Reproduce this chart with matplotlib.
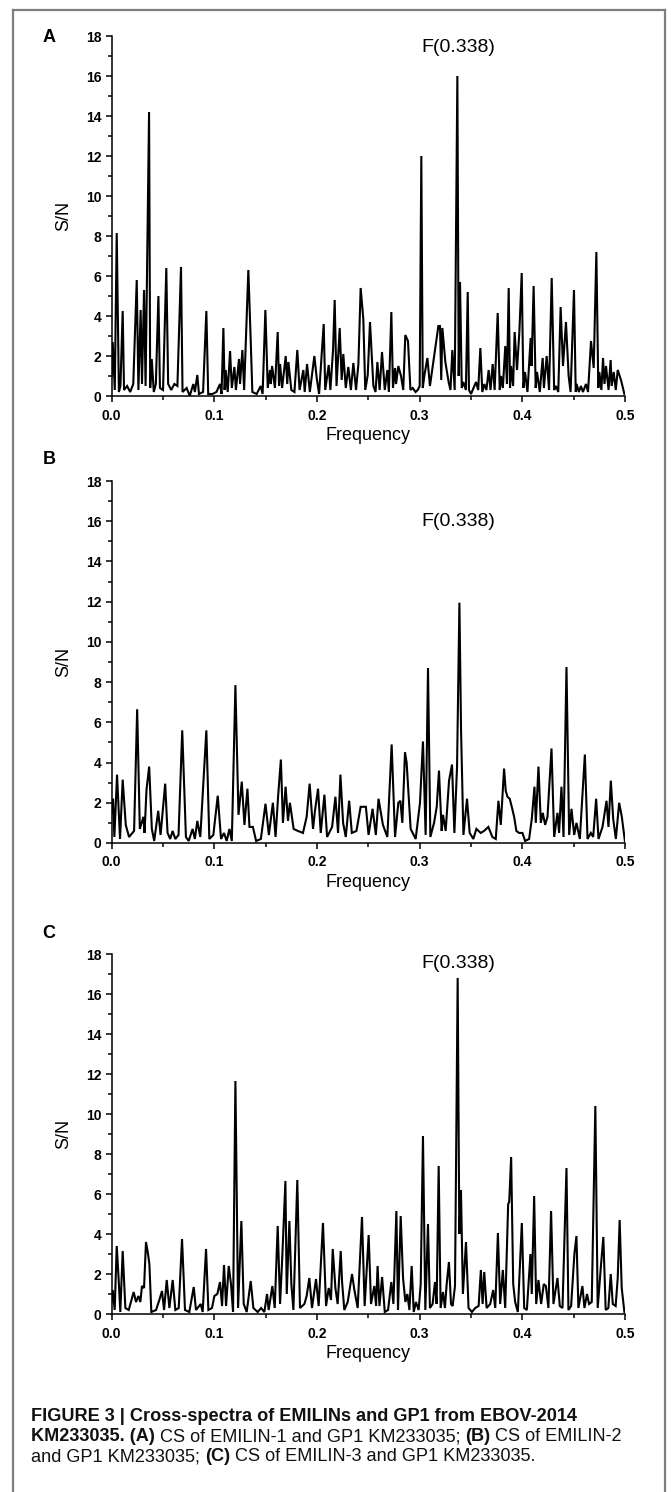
import matplotlib
matplotlib.use("Agg")
import matplotlib.pyplot as plt
from matplotlib.lines import Line2D
from matplotlib.ticker import MultipleLocator

plt.rcParams['font.family'] = ['Liberation Sans', 'DejaVu Sans']

# (frequency, S/N)
spec_a = [
    (0.000, 1.0), (0.001, 2.7), (0.003, 0.3), (0.0049, 8.15), (0.007, 0.2), (0.0085, 0.5),
    (0.0107, 4.25), (0.012, 0.3), (0.015, 0.5), (0.018, 0.2), (0.021, 0.6), (0.0244, 5.8),
    (0.026, 0.3), (0.0282, 4.3), (0.0295, 0.6), (0.0315, 5.3), (0.033, 0.5), (0.0364, 14.2),
    (0.0375, 0.4), (0.039, 1.85), (0.041, 0.2), (0.043, 0.6), (0.0455, 5.0), (0.047, 0.4),
    (0.050, 0.3), (0.0532, 6.4), (0.055, 0.6), (0.058, 0.3), (0.061, 0.6), (0.064, 0.5),
    (0.0675, 6.45), (0.069, 0.2), (0.073, 0.4), (0.076, 0.0), (0.0795, 0.6), (0.081, 0.2),
    (0.0834, 1.05), (0.085, 0.1), (0.089, 0.2), (0.0922, 4.25), (0.094, 0.1), (0.098, 0.1),
    (0.102, 0.2), (0.1055, 0.6), (0.107, 0.1), (0.1088, 3.4), (0.110, 0.3), (0.111, 1.3),
    (0.113, 0.2), (0.1153, 2.25), (0.117, 0.4), (0.1195, 1.45), (0.121, 0.3), (0.124, 1.85),
    (0.125, 0.6), (0.1273, 2.3), (0.129, 0.3), (0.1331, 6.3), (0.1354, 2.8), (0.137, 0.2),
    (0.1412, 0.1), (0.1451, 0.5), (0.147, 0.1), (0.1497, 4.3), (0.152, 0.4), (0.1542, 1.3),
    (0.155, 0.6), (0.1562, 1.5), (0.159, 0.4), (0.1617, 3.2), (0.163, 0.5), (0.164, 1.6),
    (0.166, 0.4), (0.1695, 2.0), (0.171, 0.6), (0.1721, 1.7), (0.175, 0.3), (0.178, 0.2),
    (0.1808, 2.3), (0.183, 0.3), (0.1867, 1.3), (0.188, 0.2), (0.1903, 1.6), (0.193, 0.2),
    (0.1974, 2.0), (0.1997, 0.9), (0.202, 0.1), (0.2065, 3.6), (0.208, 0.3), (0.2114, 1.55),
    (0.213, 0.3), (0.2156, 2.3), (0.2172, 4.8), (0.219, 0.5), (0.2221, 3.4), (0.224, 0.8),
    (0.2256, 2.1), (0.228, 0.4), (0.2305, 1.45), (0.233, 0.3), (0.2354, 1.65), (0.238, 0.3),
    (0.2403, 1.6), (0.2425, 5.4), (0.2451, 3.85), (0.247, 0.3), (0.2494, 1.05), (0.2516, 3.7),
    (0.2549, 0.5), (0.257, 0.2), (0.2588, 1.7), (0.261, 0.3), (0.2633, 2.2), (0.266, 0.3),
    (0.2685, 1.3), (0.270, 0.2), (0.2724, 4.2), (0.274, 0.4), (0.276, 1.4), (0.277, 0.6),
    (0.2792, 1.5), (0.2818, 1.0), (0.284, 0.3), (0.286, 3.05), (0.2886, 2.75), (0.291, 0.3),
    (0.2932, 0.4), (0.296, 0.2), (0.2981, 0.3), (0.300, 0.5), (0.3016, 12.0), (0.303, 0.4),
    (0.3045, 1.0), (0.3075, 1.9), (0.310, 0.5), (0.3127, 1.5), (0.3153, 2.5), (0.3182, 3.5),
    (0.3198, 3.5), (0.321, 0.8), (0.3221, 3.4), (0.325, 1.7), (0.3282, 0.7), (0.330, 0.3),
    (0.3318, 2.3), (0.3341, 0.3), (0.3367, 16.0), (0.338, 1.0), (0.3393, 5.7), (0.341, 0.4),
    (0.3425, 0.7), (0.345, 0.3), (0.3468, 5.2), (0.348, 0.3), (0.350, 0.1), (0.3549, 0.7),
    (0.357, 0.3), (0.3591, 2.4), (0.361, 0.2), (0.363, 0.6), (0.365, 0.3), (0.3672, 1.3),
    (0.369, 0.3), (0.3711, 1.6), (0.373, 0.3), (0.376, 4.15), (0.378, 0.3), (0.3792, 1.0),
    (0.381, 0.4), (0.3834, 2.5), (0.385, 0.6), (0.3867, 5.4), (0.388, 0.4), (0.389, 1.5),
    (0.391, 0.5), (0.3925, 3.2), (0.3948, 1.3), (0.3971, 3.2), (0.3994, 6.15), (0.401, 0.4),
    (0.4026, 1.2), (0.405, 0.2), (0.4081, 2.9), (0.409, 1.5), (0.411, 5.5), (0.413, 0.4),
    (0.4143, 1.2), (0.417, 0.2), (0.4198, 1.9), (0.421, 0.4), (0.4237, 2.0), (0.426, 0.3),
    (0.4286, 5.9), (0.431, 0.3), (0.4328, 0.5), (0.435, 0.2), (0.4373, 4.45), (0.4396, 1.5),
    (0.4425, 3.7), (0.4451, 1.0), (0.447, 0.2), (0.4503, 5.3), (0.452, 0.2), (0.4529, 0.6),
    (0.455, 0.2), (0.4571, 0.5), (0.459, 0.2), (0.462, 0.6), (0.464, 0.2), (0.4669, 2.75),
    (0.4695, 1.4), (0.4721, 7.2), (0.474, 0.4), (0.475, 1.2), (0.477, 0.3), (0.4786, 1.9),
    (0.480, 0.6), (0.4815, 1.5), (0.484, 0.3), (0.486, 1.8), (0.487, 0.5), (0.489, 1.2),
    (0.491, 0.3), (0.4929, 1.3), (0.4961, 0.8), (0.4994, 0.1),
]

spec_b = [
    (0.000, 1.5), (0.0013, 2.2), (0.0026, 0.3), (0.0052, 3.4), (0.0081, 0.2), (0.0107, 3.15),
    (0.0137, 0.9), (0.0169, 0.3), (0.0218, 0.6), (0.0248, 6.65), (0.0274, 0.7), (0.0309, 1.3),
    (0.032, 0.5), (0.0339, 2.65), (0.0365, 3.8), (0.0391, 0.7), (0.0414, 0.1), (0.0453, 1.6),
    (0.0476, 0.4), (0.0521, 2.95), (0.0544, 0.5), (0.057, 0.2), (0.0593, 0.6), (0.062, 0.2),
    (0.0651, 0.4), (0.0687, 5.6), (0.0723, 0.3), (0.075, 0.1), (0.0788, 0.7), (0.081, 0.2),
    (0.0834, 1.1), (0.0863, 0.3), (0.0922, 5.6), (0.0951, 0.2), (0.099, 0.4), (0.1033, 2.35),
    (0.1065, 0.2), (0.1094, 0.5), (0.112, 0.1), (0.1147, 0.7), (0.117, 0.1), (0.1205, 7.85),
    (0.1235, 1.4), (0.1267, 3.05), (0.1293, 0.9), (0.1322, 2.7), (0.1342, 0.8), (0.1375, 0.8),
    (0.1407, 0.1), (0.1453, 0.2), (0.1498, 1.95), (0.1531, 0.4), (0.157, 2.0), (0.1596, 0.3),
    (0.1622, 2.4), (0.1648, 4.15), (0.1668, 1.0), (0.1694, 2.8), (0.1717, 1.1), (0.1736, 2.0),
    (0.1772, 0.7), (0.1814, 0.6), (0.1863, 0.5), (0.1899, 1.3), (0.1928, 2.95), (0.1961, 0.7),
    (0.198, 1.6), (0.201, 2.7), (0.2036, 0.5), (0.2072, 2.4), (0.2098, 0.3), (0.2147, 0.8),
    (0.2179, 2.3), (0.2205, 0.5), (0.2228, 3.4), (0.2254, 1.0), (0.228, 0.3), (0.2313, 2.1),
    (0.2339, 0.5), (0.2384, 0.6), (0.2425, 1.8), (0.2450, 1.8), (0.2476, 1.8), (0.2502, 0.4),
    (0.2541, 1.7), (0.2573, 0.4), (0.2599, 2.2), (0.2642, 0.9), (0.2685, 0.3), (0.2727, 4.9),
    (0.276, 0.3), (0.2792, 2.0), (0.2812, 2.1), (0.2831, 1.0), (0.2857, 4.5), (0.2873, 4.0),
    (0.2912, 0.7), (0.2961, 0.2), (0.3003, 2.0), (0.3032, 5.05), (0.3058, 0.4), (0.3081, 8.7),
    (0.3104, 0.3), (0.314, 1.0), (0.3166, 1.8), (0.3188, 3.6), (0.3214, 0.6), (0.3227, 1.4),
    (0.3253, 0.6), (0.3286, 3.1), (0.3315, 3.9), (0.3338, 0.5), (0.3364, 3.8), (0.3387, 11.95),
    (0.3403, 5.6), (0.3426, 0.4), (0.3461, 2.2), (0.3487, 0.5), (0.3523, 0.2), (0.3552, 0.7),
    (0.3595, 0.5), (0.3627, 0.6), (0.3669, 0.8), (0.3708, 0.3), (0.3741, 0.2), (0.3767, 2.1),
    (0.379, 0.9), (0.3822, 3.7), (0.3838, 2.6), (0.3855, 2.3), (0.3877, 2.2), (0.3897, 1.8),
    (0.392, 1.3), (0.3942, 0.6), (0.3968, 0.5), (0.4001, 0.5), (0.4027, 0.1), (0.4066, 0.2),
    (0.4092, 1.2), (0.4118, 2.8), (0.4131, 1.0), (0.4157, 3.8), (0.418, 1.0), (0.4199, 1.5),
    (0.4222, 0.9), (0.4245, 1.3), (0.4284, 4.7), (0.431, 0.3), (0.4342, 1.5), (0.4358, 0.5),
    (0.4381, 2.8), (0.4401, 0.3), (0.443, 8.75), (0.4456, 0.4), (0.4479, 1.7), (0.4505, 0.4),
    (0.4527, 1.0), (0.456, 0.2), (0.4609, 4.4), (0.4635, 0.2), (0.4667, 0.5), (0.469, 0.3),
    (0.4719, 2.2), (0.4742, 0.2), (0.4781, 0.8), (0.482, 2.1), (0.4839, 0.8), (0.4862, 3.1),
    (0.4885, 1.2), (0.4911, 0.2), (0.4943, 2.0), (0.4969, 1.3), (0.4999, 0.1),
]

spec_c = [
    (0.000, 0.6), (0.001, 1.2), (0.0029, 0.2), (0.0049, 3.4), (0.0068, 1.7), (0.0084, 0.1),
    (0.0107, 3.15), (0.0133, 0.3), (0.0166, 0.2), (0.0198, 0.8), (0.0214, 1.1), (0.0237, 0.6),
    (0.026, 0.9), (0.0279, 0.6), (0.0295, 1.4), (0.0315, 1.3), (0.0334, 3.6), (0.0351, 3.1),
    (0.0367, 2.5), (0.0386, 0.1), (0.0432, 0.2), (0.0464, 0.7), (0.049, 1.15), (0.051, 0.2),
    (0.0536, 1.7), (0.0562, 0.3), (0.0594, 1.7), (0.062, 0.2), (0.0653, 0.3), (0.0685, 3.75),
    (0.0714, 0.2), (0.0756, 0.1), (0.0799, 1.35), (0.0821, 0.2), (0.0867, 0.5), (0.0886, 0.1),
    (0.0919, 3.25), (0.0942, 0.2), (0.0977, 0.3), (0.1000, 0.9), (0.1029, 1.0), (0.1055, 1.6),
    (0.1075, 0.4), (0.1094, 2.45), (0.1114, 0.4), (0.114, 2.4), (0.1162, 1.5), (0.1182, 0.1),
    (0.1205, 11.65), (0.1231, 0.3), (0.1263, 4.65), (0.1286, 0.5), (0.1315, 0.1), (0.1354, 1.65),
    (0.138, 0.3), (0.1422, 0.1), (0.1455, 0.3), (0.1487, 0.1), (0.1513, 1.0), (0.1529, 0.2),
    (0.1565, 1.4), (0.1588, 0.3), (0.1617, 4.4), (0.164, 0.5), (0.1662, 2.9), (0.1692, 6.65),
    (0.1705, 1.0), (0.1731, 4.65), (0.175, 1.5), (0.177, 0.2), (0.1808, 6.7), (0.1834, 0.3),
    (0.1877, 0.5), (0.1899, 0.9), (0.1925, 1.8), (0.1951, 0.3), (0.199, 1.75), (0.2016, 0.4),
    (0.2058, 4.55), (0.2088, 0.4), (0.2114, 1.3), (0.2136, 0.7), (0.2153, 3.25), (0.2179, 1.3),
    (0.2201, 0.5), (0.2231, 3.15), (0.2244, 1.6), (0.2266, 0.2), (0.2299, 0.6), (0.2341, 2.0),
    (0.2364, 1.2), (0.2396, 0.3), (0.2438, 4.85), (0.2464, 0.4), (0.2503, 3.95), (0.2526, 0.5),
    (0.2558, 1.4), (0.2575, 0.4), (0.2590, 2.4), (0.2608, 0.4), (0.2634, 1.85), (0.266, 0.1),
    (0.2692, 0.2), (0.2724, 1.6), (0.2744, 0.5), (0.2773, 5.15), (0.2789, 0.2), (0.2815, 4.9),
    (0.2838, 1.8), (0.2861, 0.6), (0.288, 1.0), (0.290, 0.2), (0.2922, 2.4), (0.2942, 0.1),
    (0.2964, 0.6), (0.299, 0.2), (0.301, 1.5), (0.3032, 8.9), (0.3055, 0.2), (0.3081, 4.5),
    (0.310, 0.3), (0.3126, 0.5), (0.3149, 1.6), (0.3165, 0.5), (0.3185, 7.4), (0.3204, 0.3),
    (0.3227, 1.1), (0.3246, 0.3), (0.3263, 1.5), (0.3285, 2.6), (0.3305, 0.5), (0.3321, 0.4),
    (0.3344, 1.4), (0.337, 16.8), (0.3386, 4.0), (0.3402, 6.2), (0.3421, 1.0), (0.3451, 3.6),
    (0.3476, 0.3), (0.3509, 0.1), (0.3541, 0.3), (0.3574, 0.4), (0.3596, 2.2), (0.3613, 0.5),
    (0.3629, 2.1), (0.3652, 0.3), (0.3687, 0.5), (0.3716, 1.2), (0.3736, 0.3), (0.3762, 4.05),
    (0.3784, 0.5), (0.381, 2.2), (0.3833, 0.3), (0.3862, 5.5), (0.3872, 5.6), (0.3891, 7.85),
    (0.3911, 1.5), (0.393, 0.6), (0.3956, 0.1), (0.3995, 4.55), (0.4018, 0.3), (0.4044, 0.2),
    (0.4079, 3.0), (0.4092, 1.0), (0.4115, 5.9), (0.4135, 0.5), (0.4157, 1.7), (0.4183, 0.5),
    (0.4209, 1.5), (0.4229, 1.4), (0.4254, 0.3), (0.428, 5.15), (0.4303, 0.5), (0.4342, 1.8),
    (0.4365, 0.4), (0.4391, 0.3), (0.443, 7.3), (0.4449, 0.2), (0.4475, 0.4), (0.4507, 3.0),
    (0.4527, 3.9), (0.4546, 0.3), (0.4585, 1.4), (0.4605, 0.3), (0.463, 1.0), (0.465, 0.5),
    (0.4676, 0.6), (0.4711, 10.4), (0.4734, 0.3), (0.4767, 2.5), (0.4789, 3.85), (0.4812, 0.2),
    (0.4838, 0.3), (0.4861, 2.0), (0.4881, 0.5), (0.4909, 0.4), (0.4929, 1.8), (0.4948, 4.7),
    (0.4968, 1.3), (0.4994, 0.1),
]

panel_letters = ["A", "B", "C"]
peak_label = "F(0.338)"
peak_freq = 0.338
peak_label_y = [17.4, 16.0, 17.5]

W, H = 671, 1492
fig = plt.figure(figsize=(W / 100, H / 100), dpi=100)

# axes boxes in pixels: (left, bottom-from-top, width, height)
boxes = [(111.7, 396, 513.3, 360), (111.7, 843, 513.3, 362), (111.7, 1314, 513.3, 360)]
letter_y = [37, 460, 933]

for spec, box, letter, ly, py in zip([spec_a, spec_b, spec_c], boxes, panel_letters,
                                     letter_y, peak_label_y):
    l, b, w, h = box
    ax = fig.add_axes([l / W, (H - b) / H, w / W, h / H])
    f, sn = zip(*spec)
    ax.plot(f, sn, color='black', lw=1.5, solid_joinstyle='miter')
    ax.set_xlim(0, 0.5)
    ax.set_ylim(0, 18)
    for side in ['top', 'right']:
        ax.spines[side].set_visible(False)
    for side in ['left', 'bottom']:
        ax.spines[side].set_linewidth(1.1)
    ax.xaxis.set_major_locator(MultipleLocator(0.1))
    ax.xaxis.set_minor_locator(MultipleLocator(0.05))
    ax.yaxis.set_major_locator(MultipleLocator(2))
    ax.yaxis.set_minor_locator(MultipleLocator(1))
    ax.tick_params(which='major', length=4.5, width=1.1, direction='out', pad=3)
    ax.tick_params(axis='x', which='major', pad=4.5)
    ax.tick_params(which='minor', length=3, width=1.1, direction='out')
    ax.set_xticklabels([f"{v:.1f}" for v in ax.get_xticks()], fontsize=10, fontweight='bold')
    ax.set_yticklabels([f"{v:.0f}" for v in ax.get_yticks()], fontsize=10, fontweight='bold')
    ax.set_xlabel("Frequency", fontsize=13, labelpad=3)
    ax.set_ylabel("S/N", fontsize=13, labelpad=10)
    ax.text(peak_freq, py, peak_label, fontsize=14, ha='center', va='center', clip_on=False)
    fig.text(49 / W, 1 - ly / H, letter, fontsize=13, fontweight='bold', ha='center', va='center')

# grey frame around the figure
frame = dict(color='#7f7f7f', lw=1.6)
fig.add_artist(Line2D([12.7 / W, 12.7 / W], [0, 1 - 10 / H], transform=fig.transFigure, **frame))
fig.add_artist(Line2D([12.7 / W, 665 / W], [1 - 10 / H, 1 - 10 / H], transform=fig.transFigure, **frame))
fig.add_artist(Line2D([665 / W, 665 / W], [0, 1 - 10 / H], transform=fig.transFigure, **frame))

# caption with bold and regular runs
caption_lines = [
    [("FIGURE 3 | Cross-spectra of EMILINs and GP1 from EBOV-2014", 'bold')],
    [("KM233035. (A)", 'bold'), (" CS of EMILIN-1 and GP1 KM233035; ", 'normal'),
     ("(B)", 'bold'), (" CS of EMILIN-2", 'normal')],
    [("and GP1 KM233035; ", 'normal'), ("(C)", 'bold'),
     (" CS of EMILIN-3 and GP1 KM233035.", 'normal')],
]
baselines = [1421, 1441, 1461]
renderer = fig.canvas.get_renderer()
for runs, base in zip(caption_lines, baselines):
    x = 31 / W
    for txt, weight in runs:
        t = fig.text(x, 1 - base / H, txt, fontsize=13.1, fontweight=weight,
                     ha='left', va='baseline', color='#111111')
        bb = t.get_window_extent(renderer)
        x += bb.width / W

fig.savefig("out.png", dpi=100)
